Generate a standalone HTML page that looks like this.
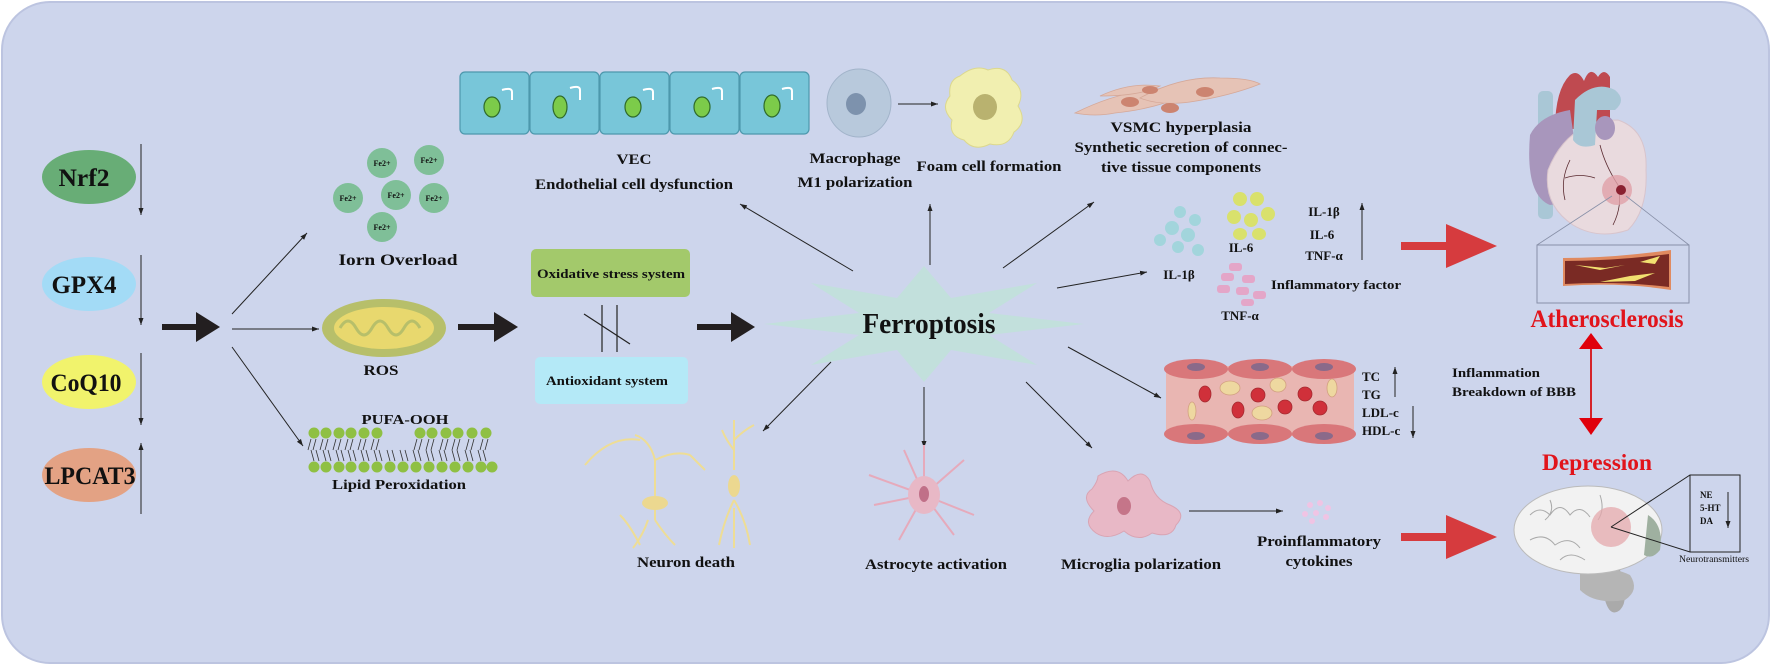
<!DOCTYPE html>
<html><head><meta charset="utf-8"><style>
html,body{margin:0;padding:0;background:#fff;}
svg{display:block;}
text{font-family:"Liberation Serif",serif;font-weight:bold;fill:#111;}
</style></head><body>
<svg width="1772" height="666" viewBox="0 0 1772 666" xmlns="http://www.w3.org/2000/svg">
<defs>
<marker id="a" markerWidth="8" markerHeight="8" refX="7" refY="4" orient="auto" markerUnits="userSpaceOnUse"><path d="M0,1.5 L7,4 L0,6.5 Z" fill="#222"/></marker>
</defs>
<rect x="2" y="2" width="1767" height="661" rx="48" fill="#cdd5ec" stroke="#bcc4e0" stroke-width="2"/>

<ellipse cx="89" cy="177" rx="47" ry="27" fill="#68ad76"/>
<text x="84" y="186" font-size="25" text-anchor="middle" textLength="51" lengthAdjust="spacingAndGlyphs">Nrf2</text>
<ellipse cx="89" cy="284" rx="47" ry="27" fill="#a3dbf6"/>
<text x="84" y="293" font-size="25" text-anchor="middle" textLength="65" lengthAdjust="spacingAndGlyphs">GPX4</text>
<ellipse cx="89" cy="382" rx="47" ry="27" fill="#f1f36c"/>
<text x="86" y="391" font-size="25" text-anchor="middle" textLength="71" lengthAdjust="spacingAndGlyphs">CoQ10</text>
<ellipse cx="89" cy="475" rx="47" ry="27" fill="#e3a284"/>
<text x="90" y="484" font-size="25" text-anchor="middle" textLength="91" lengthAdjust="spacingAndGlyphs">LPCAT3</text>
<g stroke="#222" stroke-width="1" marker-end="url(#a)">
<line x1="141" y1="144" x2="141" y2="215"/>
<line x1="141" y1="255" x2="141" y2="325"/>
<line x1="141" y1="353" x2="141" y2="425"/>
<line x1="141" y1="514" x2="141" y2="443"/>
</g>

<g fill="#231f20">
<path d="M162,324 h34 v-12 l24,15 l-24,15 v-12 h-34 z"/>
<path d="M458,324 h36 v-12 l24,15 l-24,15 v-12 h-36 z"/>
<path d="M697,324 h34 v-12 l24,15 l-24,15 v-12 h-34 z"/>
</g>

<g stroke="#222" stroke-width="1" marker-end="url(#a)">
<line x1="232" y1="314" x2="307" y2="233"/>
<line x1="232" y1="329" x2="319" y2="329"/>
<line x1="232" y1="347" x2="303" y2="446"/>
</g>

<g fill="#7fbf98">
<circle cx="382" cy="163" r="15"/><circle cx="429" cy="160" r="15"/>
<circle cx="348" cy="198" r="15"/><circle cx="396" cy="195" r="15"/>
<circle cx="434" cy="198" r="15"/><circle cx="382" cy="227" r="15"/>
</g>
<g font-size="8" text-anchor="middle" style="font-weight:normal">
<text x="382" y="166">Fe2+</text><text x="429" y="163">Fe2+</text>
<text x="348" y="201">Fe2+</text><text x="396" y="198">Fe2+</text>
<text x="434" y="201">Fe2+</text><text x="382" y="230">Fe2+</text>
</g>
<text x="398" y="265" font-size="16" text-anchor="middle" textLength="119" lengthAdjust="spacingAndGlyphs">Iorn Overload</text>

<ellipse cx="384" cy="328" rx="62" ry="29" fill="#b7bf6a"/>
<ellipse cx="384" cy="328" rx="50" ry="21" fill="#e8d86e"/>
<path d="M340,328 q8,-14 16,0 q8,14 16,0 q8,-14 16,0 q8,14 16,0 q8,-14 16,0" stroke="#b7bf6a" stroke-width="3" fill="none"/>
<text x="381" y="375" font-size="15" text-anchor="middle" textLength="35" lengthAdjust="spacingAndGlyphs">ROS</text>

<text x="405" y="424" font-size="14" text-anchor="middle" textLength="87" lengthAdjust="spacingAndGlyphs">PUFA-OOH</text>
<g fill="#8fc043">
<circle cx="314" cy="433" r="5.5"/><circle cx="326" cy="433" r="5.5"/><circle cx="339" cy="433" r="5.5"/><circle cx="351" cy="433" r="5.5"/><circle cx="364" cy="433" r="5.5"/><circle cx="377" cy="433" r="5.5"/>
<circle cx="420" cy="433" r="5.5"/><circle cx="432" cy="433" r="5.5"/><circle cx="446" cy="433" r="5.5"/><circle cx="458" cy="433" r="5.5"/><circle cx="472" cy="433" r="5.5"/><circle cx="486" cy="433" r="5.5"/>
<circle cx="314" cy="467" r="5.5"/><circle cx="326" cy="467" r="5.5"/><circle cx="339" cy="467" r="5.5"/><circle cx="351" cy="467" r="5.5"/><circle cx="364" cy="467" r="5.5"/><circle cx="377" cy="467" r="5.5"/><circle cx="390" cy="467" r="5.5"/><circle cx="403" cy="467" r="5.5"/><circle cx="416" cy="467" r="5.5"/><circle cx="429" cy="467" r="5.5"/><circle cx="442" cy="467" r="5.5"/><circle cx="455" cy="467" r="5.5"/><circle cx="468" cy="467" r="5.5"/><circle cx="481" cy="467" r="5.5"/><circle cx="492" cy="467" r="5.5"/>
</g>
<path d="M311,439 l-3,11 M316,439 l-3,11 M323,439 l-3,11 M328,439 l-3,11 M336,439 l-3,11 M341,439 l-3,11 M348,439 l-3,11 M353,439 l-3,11 M361,439 l-3,11 M366,439 l-3,11 M374,439 l-3,11 M379,439 l-3,11 M417,439 l-3,11 M422,439 l-3,11 M429,439 l-3,11 M434,439 l-3,11 M443,439 l-3,11 M448,439 l-3,11 M455,439 l-3,11 M460,439 l-3,11 M469,439 l-3,11 M474,439 l-3,11 M483,439 l-3,11 M488,439 l-3,11 M311,450 l3,11 M316,450 l3,11 M323,450 l3,11 M328,450 l3,11 M336,450 l3,11 M341,450 l3,11 M348,450 l3,11 M353,450 l3,11 M361,450 l3,11 M366,450 l3,11 M374,450 l3,11 M379,450 l3,11 M387,450 l3,11 M392,450 l3,11 M400,450 l3,11 M405,450 l3,11 M413,450 l3,11 M418,450 l3,11 M426,450 l3,11 M431,450 l3,11 M439,450 l3,11 M444,450 l3,11 M452,450 l3,11 M457,450 l3,11 M465,450 l3,11 M470,450 l3,11 M478,450 l3,11 M483,450 l3,11" stroke="#333" stroke-width="0.8" fill="none"/>
<text x="399" y="489" font-size="14" text-anchor="middle" textLength="134" lengthAdjust="spacingAndGlyphs">Lipid Peroxidation</text>

<g stroke="#4d98ad" stroke-width="1.2" fill="#78c6d9">
<rect x="460" y="72" width="69" height="62" rx="5"/><rect x="530" y="72" width="69" height="62" rx="5"/><rect x="600" y="72" width="69" height="62" rx="5"/><rect x="670" y="72" width="69" height="62" rx="5"/><rect x="740" y="72" width="69" height="62" rx="5"/>
</g>
<g fill="#7ccb4a" stroke="#2f6a2a" stroke-width="1.2">
<ellipse cx="492" cy="107" rx="8" ry="10"/><ellipse cx="560" cy="107" rx="7" ry="11"/><ellipse cx="633" cy="107" rx="8" ry="10"/><ellipse cx="702" cy="107" rx="8" ry="10"/><ellipse cx="772" cy="106" rx="8" ry="11"/>
</g>
<g stroke="#fff" stroke-width="2" fill="none">
<path d="M502,90 q10,-3 10,2 v8"/><path d="M570,88 q10,-3 10,2 v10"/><path d="M643,90 q10,-3 10,2 v8"/><path d="M712,89 q10,-3 10,2 v9"/><path d="M782,89 q10,-3 10,2 v9"/>
</g>
<text x="634" y="164" font-size="15" text-anchor="middle" textLength="35" lengthAdjust="spacingAndGlyphs">VEC</text>
<text x="634" y="189" font-size="15" text-anchor="middle" textLength="198" lengthAdjust="spacingAndGlyphs">Endothelial cell dysfunction</text>

<ellipse cx="859" cy="103" rx="32" ry="34" fill="#b8c9dc" stroke="#a2b4ca"/>
<ellipse cx="856" cy="104" rx="10" ry="11" fill="#7d92ad"/>
<line x1="898" y1="104" x2="938" y2="104" stroke="#222" marker-end="url(#a)"/>
<text x="855" y="163" font-size="15" text-anchor="middle" textLength="91" lengthAdjust="spacingAndGlyphs">Macrophage</text>
<text x="855" y="187" font-size="15" text-anchor="middle" textLength="115" lengthAdjust="spacingAndGlyphs">M1 polarization</text>
<path d="M960,76 q15,-12 28,-6 q18,-6 24,10 q14,10 6,26 q10,16 -4,26 q-6,16 -24,12 q-16,8 -26,-4 q-16,-4 -12,-20 q-12,-12 -2,-24 q-2,-16 10,-20z" fill="#f1efb0" stroke="#dcd88e"/>
<ellipse cx="985" cy="107" rx="12" ry="13" fill="#b9b26f"/>
<text x="989" y="171" font-size="15" text-anchor="middle" textLength="145" lengthAdjust="spacingAndGlyphs">Foam cell formation</text>

<g fill="#e6c3b6" stroke="#d5a898" stroke-width="0.8">
<path d="M1075,113 q40,-20 80,-24 q20,-2 30,6 q-30,14 -70,18 q-20,4 -40,0z"/>
<path d="M1140,98 q40,-22 80,-20 q30,0 40,6 q-30,12 -70,18 q-30,4 -50,-4z"/>
<path d="M1100,96 q30,-14 60,-10 q-20,10 -60,10z"/>
</g>
<g fill="#cc8470"><ellipse cx="1130" cy="102" rx="9" ry="5"/><ellipse cx="1170" cy="108" rx="9" ry="5"/><ellipse cx="1205" cy="92" rx="9" ry="5"/><ellipse cx="1150" cy="90" rx="8" ry="4"/></g>
<text x="1181" y="132" font-size="15" text-anchor="middle" textLength="141" lengthAdjust="spacingAndGlyphs">VSMC  hyperplasia</text>
<text x="1181" y="152" font-size="15" text-anchor="middle" textLength="213" lengthAdjust="spacingAndGlyphs">Synthetic secretion of connec-</text>
<text x="1181" y="172" font-size="15" text-anchor="middle" textLength="160" lengthAdjust="spacingAndGlyphs">tive tissue components</text>

<rect x="531" y="249" width="159" height="48" rx="5" fill="#a3c96b"/>
<text x="611" y="278" font-size="13" text-anchor="middle" textLength="148" lengthAdjust="spacingAndGlyphs">Oxidative stress system</text>
<rect x="535" y="357" width="153" height="47" rx="5" fill="#b4e9f7"/>
<text x="607" y="385" font-size="13" text-anchor="middle" textLength="122" lengthAdjust="spacingAndGlyphs">Antioxidant system</text>
<g stroke="#222" stroke-width="1.2"><line x1="602" y1="305" x2="602" y2="352"/><line x1="617" y1="305" x2="617" y2="352"/><line x1="584" y1="314" x2="630" y2="344"/></g>

<polygon points="1084,324 989,335 1037,365 951,350 924,382 897,350 811,365 859,335 764,324 859,313 811,283 897,298 924,266 951,298 1037,283 989,313" fill="#c2e0dc"/>
<text x="929" y="333" font-size="28" text-anchor="middle" textLength="133" lengthAdjust="spacingAndGlyphs">Ferroptosis</text>

<g stroke="#222" stroke-width="1" marker-end="url(#a)">
<line x1="853" y1="271" x2="740" y2="204"/>
<line x1="930" y1="265" x2="930" y2="204"/>
<line x1="1003" y1="268" x2="1094" y2="202"/>
<line x1="1057" y1="288" x2="1147" y2="272"/>
<line x1="1068" y1="347" x2="1161" y2="398"/>
<line x1="1026" y1="382" x2="1092" y2="448"/>
<line x1="924" y1="387" x2="924" y2="448"/>
<line x1="831" y1="362" x2="763" y2="431"/>
</g>

<g stroke="#eedd95" stroke-width="2" fill="none">
<path d="M655,520 v-60 q-5,-20 -20,-25 M655,460 q20,-10 35,-5 M640,440 q-30,-5 -55,25 M690,455 q10,10 15,15 M640,545 q-10,-20 -20,-30 M655,520 q10,15 20,25 M648,520 q-5,15 -15,28"/>
<path d="M734,548 v-40 M734,470 v-50 M734,440 q10,-10 20,-15 M734,450 q-8,-10 -12,-20 M734,500 q-10,20 -15,45 M734,500 q12,20 16,45"/>
</g>
<ellipse cx="655" cy="503" rx="13" ry="7" fill="#ecd890"/>
<ellipse cx="734" cy="486" rx="6" ry="11" fill="#ecd890"/>
<text x="686" y="567" font-size="15" text-anchor="middle" textLength="98" lengthAdjust="spacingAndGlyphs">Neuron death</text>

<g stroke="#e6aabb" stroke-width="2" fill="none">
<path d="M924,495 l-20,-45 M924,495 l40,-35 M924,495 l-50,10 M924,495 l50,20 M924,495 l-25,45 M924,495 l30,40 M924,495 l-55,-20 M924,495 l0,-50"/>
</g>
<ellipse cx="924" cy="495" rx="16" ry="19" fill="#e8b8c6"/>
<ellipse cx="924" cy="494" rx="5" ry="8" fill="#c07088"/>
<text x="936" y="569" font-size="15" text-anchor="middle" textLength="142" lengthAdjust="spacingAndGlyphs">Astrocyte activation</text>

<path d="M1098,476 q20,-12 30,5 q14,-14 22,0 q4,18 20,24 q18,8 6,20 q-4,14 -24,8 q-14,10 -28,-2 q-16,10 -28,2 q-14,-10 -2,-22 q-14,-14 -2,-22 q6,-8 6,-13z" fill="#e8b8c6" stroke="#d9a4b3"/>
<ellipse cx="1124" cy="506" rx="7" ry="9" fill="#c57589"/>
<text x="1141" y="569" font-size="15" text-anchor="middle" textLength="160" lengthAdjust="spacingAndGlyphs">Microglia polarization</text>
<line x1="1189" y1="511" x2="1283" y2="511" stroke="#222" marker-end="url(#a)"/>
<g fill="#f0c4e4"><circle cx="1310" cy="505" r="3"/><circle cx="1320" cy="503" r="3"/><circle cx="1328" cy="508" r="3"/><circle cx="1305" cy="514" r="3"/><circle cx="1316" cy="513" r="3"/><circle cx="1326" cy="517" r="3"/><circle cx="1312" cy="521" r="3"/></g>
<text x="1319" y="546" font-size="15" text-anchor="middle" textLength="124" lengthAdjust="spacingAndGlyphs">Proinflammatory</text>
<text x="1319" y="566" font-size="15" text-anchor="middle" textLength="67" lengthAdjust="spacingAndGlyphs">cytokines</text>

<g fill="#a2d5dc"><circle cx="1180" cy="212" r="6"/><circle cx="1195" cy="220" r="6"/><circle cx="1172" cy="228" r="7"/><circle cx="1188" cy="235" r="7"/><circle cx="1160" cy="240" r="6"/><circle cx="1178" cy="247" r="6"/><circle cx="1198" cy="250" r="6"/></g>
<g fill="#d9e16c"><ellipse cx="1240" cy="199" rx="7" ry="7"/><ellipse cx="1257" cy="199" rx="7" ry="7"/><ellipse cx="1234" cy="217" rx="7" ry="7"/><ellipse cx="1251" cy="220" rx="7" ry="7"/><ellipse cx="1268" cy="214" rx="7" ry="7"/><ellipse cx="1240" cy="234" rx="7" ry="6"/><ellipse cx="1259" cy="234" rx="7" ry="6"/></g>
<text x="1241" y="252" font-size="13" text-anchor="middle">IL-6</text>
<text x="1179" y="279" font-size="13" text-anchor="middle">IL-1β</text>
<g fill="#e4a6c8"><rect x="1229" y="263" width="13" height="8" rx="3"/><rect x="1221" y="273" width="13" height="8" rx="3"/><rect x="1242" y="275" width="13" height="8" rx="3"/><rect x="1217" y="285" width="13" height="8" rx="3"/><rect x="1236" y="287" width="13" height="8" rx="3"/><rect x="1253" y="291" width="13" height="8" rx="3"/><rect x="1241" y="299" width="13" height="7" rx="3"/></g>
<text x="1240" y="320" font-size="13" text-anchor="middle">TNF-α</text>
<text x="1324" y="216" font-size="13" text-anchor="middle">IL-1β</text>
<text x="1322" y="239" font-size="13" text-anchor="middle">IL-6</text>
<text x="1324" y="260" font-size="13" text-anchor="middle">TNF-α</text>
<line x1="1362" y1="260" x2="1362" y2="203" stroke="#222" marker-end="url(#a)"/>
<text x="1336" y="289" font-size="13" text-anchor="middle" textLength="130" lengthAdjust="spacingAndGlyphs">Inflammatory factor</text>

<path d="M1401,242 h45 v-18 l51,22 l-51,22 v-18 h-45 z" fill="#d63b3e"/>
<path d="M1401,533 h45 v-18 l51,22 l-51,22 v-18 h-45 z" fill="#d63b3e"/>

<rect x="1166" y="366" width="188" height="70" fill="#e9b6b2"/>
<g fill="#d9777a">
<ellipse cx="1196" cy="369" rx="32" ry="10"/><ellipse cx="1260" cy="369" rx="32" ry="10"/><ellipse cx="1324" cy="369" rx="32" ry="10"/>
<ellipse cx="1196" cy="434" rx="32" ry="10"/><ellipse cx="1260" cy="434" rx="32" ry="10"/><ellipse cx="1324" cy="434" rx="32" ry="10"/>
</g>
<g fill="#8a6a8a"><ellipse cx="1196" cy="367" rx="9" ry="4"/><ellipse cx="1260" cy="367" rx="9" ry="4"/><ellipse cx="1324" cy="367" rx="9" ry="4"/><ellipse cx="1196" cy="436" rx="9" ry="4"/><ellipse cx="1260" cy="436" rx="9" ry="4"/><ellipse cx="1324" cy="436" rx="9" ry="4"/></g>
<g fill="#d0303a" stroke="#a52a30" stroke-width="0.8"><ellipse cx="1205" cy="394" rx="6" ry="8"/><ellipse cx="1258" cy="395" rx="7" ry="7"/><ellipse cx="1305" cy="394" rx="7" ry="7"/><ellipse cx="1238" cy="410" rx="6" ry="8"/><ellipse cx="1285" cy="407" rx="7" ry="7"/><ellipse cx="1320" cy="408" rx="7" ry="7"/></g>
<g fill="#eed8a0" stroke="#d2a080" stroke-width="0.8"><ellipse cx="1230" cy="388" rx="10" ry="7"/><ellipse cx="1278" cy="385" rx="8" ry="7"/><ellipse cx="1332" cy="388" rx="5" ry="9"/><ellipse cx="1262" cy="413" rx="10" ry="7"/><ellipse cx="1192" cy="411" rx="4" ry="9"/></g>
<g font-size="13" style="font-weight:normal">
<text x="1362" y="381">TC</text><text x="1362" y="399">TG</text><text x="1362" y="417">LDL-c</text><text x="1362" y="435">HDL-c</text>
</g>
<line x1="1395" y1="397" x2="1395" y2="367" stroke="#222" marker-end="url(#a)"/>
<line x1="1413" y1="406" x2="1413" y2="438" stroke="#222" marker-end="url(#a)"/>

<rect x="1538" y="91" width="15" height="128" rx="5" fill="#a9c7d6"/>
<path d="M1555,130 q0,-40 15,-55 q8,-6 14,6 q6,-16 14,-4 q6,-10 12,0 v50 z" fill="#bf4a50"/>
<path d="M1530,135 q10,-20 40,-25 l10,70 q-15,25 -30,25 q-25,-10 -20,-70z" fill="#a896bc"/>
<path d="M1548,170 q20,-50 70,-50 q30,10 28,50 q2,40 -18,60 q-30,10 -55,-5 q-30,-20 -25,-55z" fill="#e9dade" stroke="#d8c4cc"/>
<path d="M1575,100 q20,-20 40,-10 q12,10 0,20 h-18 l-2,35 q-15,5 -22,-5z" fill="#a9c7d6"/>
<ellipse cx="1605" cy="128" rx="10" ry="12" fill="#a896bc"/>
<path d="M1570,160 q-10,20 -5,40 M1565,178 q15,-5 30,0 M1600,145 q5,20 18,40 q5,20 -5,40" stroke="#5a2a30" stroke-width="0.8" fill="none"/>
<circle cx="1617" cy="190" r="15" fill="#e0a0a8" opacity="0.8"/>
<circle cx="1621" cy="190" r="5" fill="#8a2030"/>
<line x1="1612" y1="196" x2="1537" y2="245" stroke="#8890a8" stroke-width="0.8"/>
<line x1="1626" y1="196" x2="1689" y2="245" stroke="#8890a8" stroke-width="0.8"/>
<rect x="1537" y="245" width="152" height="58" fill="none" stroke="#8890a8" stroke-width="1"/>
<path d="M1563,258 q50,0 108,-8 v40 q-50,-8 -108,-4z" fill="#e08a60"/>
<path d="M1565,261 q50,0 104,-7 v33 q-50,-6 -104,-3z" fill="#7a2a24"/>
<path d="M1575,265 l30,3 l20,-3 l-25,5z M1600,282 l30,-6 l25,-3 l-20,8z M1640,262 l20,-6 l-5,8z" fill="#f2e070"/>
<text x="1607" y="327" font-size="25" text-anchor="middle" textLength="153" lengthAdjust="spacingAndGlyphs" style="fill:#e1141b">Atherosclerosis</text>

<line x1="1591" y1="347" x2="1591" y2="420" stroke="#d5232a" stroke-width="2"/>
<polygon points="1591,333 1603,349 1579,349" fill="#e0000b"/>
<polygon points="1579,418 1603,418 1591,435" fill="#e0000b"/>
<text x="1452" y="377" font-size="13" textLength="88" lengthAdjust="spacingAndGlyphs">Inflammation</text>
<text x="1452" y="396" font-size="13" textLength="124" lengthAdjust="spacingAndGlyphs">Breakdown of BBB</text>
<text x="1597" y="470" font-size="23" text-anchor="middle" textLength="110" lengthAdjust="spacingAndGlyphs" style="fill:#e1141b">Depression</text>

<path d="M1620,570 q10,30 0,40 q-10,8 -15,-10 q-10,-20 -5,-30z" fill="#aaaaaa"/>
<path d="M1580,570 q30,-5 50,5 q10,15 -5,25 q-30,5 -45,-10z" fill="#b5b5b5"/>
<ellipse cx="1588" cy="530" rx="74" ry="44" fill="#f2f2f2" stroke="#bbbbbb"/>
<path d="M1648,515 q16,10 12,35 q-8,10 -16,5z" fill="#9fb0a0"/>
<path d="M1530,515 q10,-10 20,0 q10,-15 20,0 q10,-12 20,2 M1530,540 q15,-8 25,5 q15,-10 25,3 M1560,560 q10,-10 25,0 M1550,500 q5,12 -5,20 M1600,495 q5,15 -2,25" stroke="#aaaaaa" stroke-width="1" fill="none"/>
<circle cx="1611" cy="527" r="20" fill="#e4a8ac" opacity="0.75"/>
<polyline points="1611,527 1690,475 1740,475 1740,552 1690,552 1611,527" fill="none" stroke="#222" stroke-width="1"/>
<line x1="1690" y1="475" x2="1690" y2="552" stroke="#222" stroke-width="1"/>
<g font-size="9" style="font-weight:normal"><text x="1700" y="498">NE</text><text x="1700" y="511">5-HT</text><text x="1700" y="524">DA</text></g>
<line x1="1728" y1="492" x2="1728" y2="528" stroke="#222" marker-end="url(#a)"/>
<text x="1714" y="562" font-size="9" text-anchor="middle" style="font-weight:normal" textLength="70" lengthAdjust="spacingAndGlyphs">Neurotransmitters</text>
</svg>
</body></html>
